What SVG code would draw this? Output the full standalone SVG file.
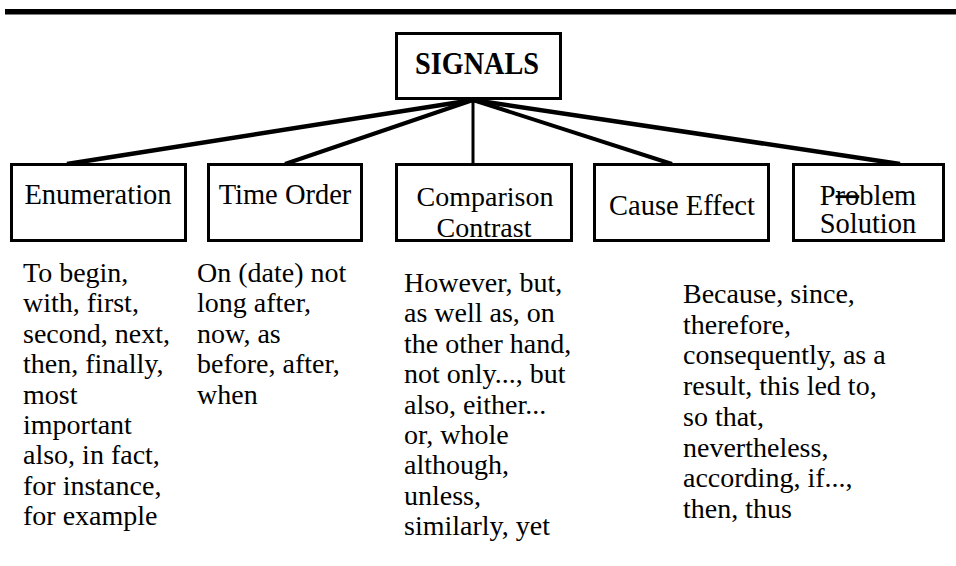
<svg xmlns="http://www.w3.org/2000/svg" width="956" height="566" viewBox="0 0 956 566">
<style>
.box{fill:#fff;stroke:#000;stroke-width:3}
text{font-family:'Liberation Serif','Times New Roman',serif;fill:#000}
.lbl{font-size:28.5px}
.lbl2{font-size:28px}
.body{font-size:28px}
.title{font-size:31px;font-weight:bold}
.conn line{stroke:#000;stroke-linecap:butt}
</style>
<rect x="5" y="9" width="951" height="5.5" fill="#000"/>
<g class="conn">
<line x1="473" y1="100" x2="67" y2="164" stroke-width="4.5"/>
<line x1="473" y1="100" x2="285" y2="164" stroke-width="4"/>
<line x1="473" y1="100" x2="473" y2="164" stroke-width="3"/>
<line x1="473" y1="100" x2="672" y2="164" stroke-width="4"/>
<line x1="473" y1="100" x2="900" y2="164" stroke-width="4.5"/>
</g>
<g id="signals">
<rect class="box" x="396.5" y="33.5" width="164" height="65"/>
<text class="title" x="477" y="74" text-anchor="middle" textLength="124" lengthAdjust="spacingAndGlyphs">SIGNALS</text>
</g>
<g id="enumeration">
<rect class="box" x="11.5" y="164.5" width="174" height="76"/>
<text class="lbl" x="98" y="204" text-anchor="middle">Enumeration</text>
</g>
<g id="time-order">
<rect class="box" x="208.5" y="164.5" width="153" height="76"/>
<text class="lbl" x="285" y="204" text-anchor="middle">Time Order</text>
</g>
<g id="comparison">
<rect class="box" x="396.5" y="164.5" width="175" height="76"/>
<text class="lbl2" x="485" y="206" text-anchor="middle">Comparison</text>
<text class="lbl2" x="484" y="237" text-anchor="middle">Contrast</text>
</g>
<g id="cause-effect">
<rect class="box" x="594.5" y="164.5" width="174" height="76"/>
<text class="lbl" x="682" y="215" text-anchor="middle">Cause Effect</text>
</g>
<g id="problem">
<rect class="box" x="793.5" y="164.5" width="150" height="76"/>
<text class="lbl" x="868" y="205" text-anchor="middle">P<tspan text-decoration="line-through">ro</tspan>blem</text>
<text class="lbl" x="868" y="233" text-anchor="middle">Solution</text>
</g>
<g id="enumeration-text">
<text class="body" x="23" y="282">To begin,</text>
<text class="body" x="23" y="312.4">with, first,</text>
<text class="body" x="23" y="342.8">second, next,</text>
<text class="body" x="23" y="373.2">then, finally,</text>
<text class="body" x="23" y="403.6">most</text>
<text class="body" x="23" y="434">important</text>
<text class="body" x="23" y="464.4">also, in fact,</text>
<text class="body" x="23" y="494.8">for instance,</text>
<text class="body" x="23" y="525.2">for example</text>
</g>
<g id="time-order-text">
<text class="body" x="197" y="282">On (date) not</text>
<text class="body" x="197" y="312.4">long after,</text>
<text class="body" x="197" y="342.8">now, as</text>
<text class="body" x="197" y="373.2">before, after,</text>
<text class="body" x="197" y="403.6">when</text>
</g>
<g id="comparison-text">
<text class="body" x="404" y="292">However, but,</text>
<text class="body" x="404" y="322.4">as well as, on</text>
<text class="body" x="404" y="352.8">the other hand,</text>
<text class="body" x="404" y="383.2">not only..., but</text>
<text class="body" x="404" y="413.6">also, either...</text>
<text class="body" x="404" y="444">or, whole</text>
<text class="body" x="404" y="474.4">although,</text>
<text class="body" x="404" y="504.8">unless,</text>
<text class="body" x="404" y="535.2">similarly, yet</text>
</g>
<g id="cause-effect-text">
<text class="body" x="683" y="303">Because, since,</text>
<text class="body" x="683" y="333.7">therefore,</text>
<text class="body" x="683" y="364.4">consequently, as a</text>
<text class="body" x="683" y="395.1">result, this led to,</text>
<text class="body" x="683" y="425.8">so that,</text>
<text class="body" x="683" y="456.5">nevertheless,</text>
<text class="body" x="683" y="487.2">according, if...,</text>
<text class="body" x="683" y="517.9">then, thus</text>
</g>
</svg>
